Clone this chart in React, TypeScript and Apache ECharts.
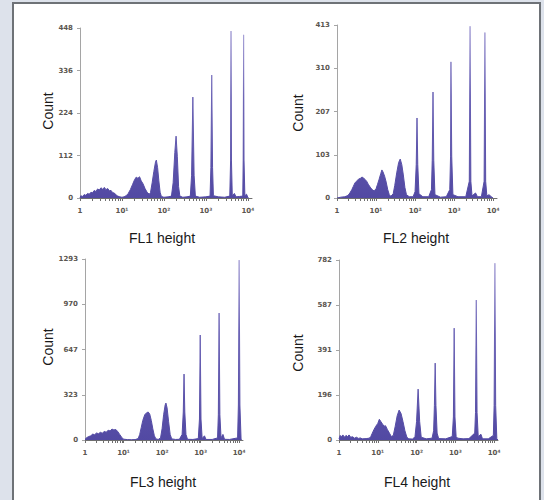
import React, { useEffect, useRef } from 'react';
import * as echarts from 'echarts';

const PANEL_TITLES = ['FL1 height', 'FL2 height', 'FL3 height', 'FL4 height'];
const Y_NAME = 'Count';
const Y_MAX = [448, 413, 1293, 782];
const X_TICK_LABELS = ['1', '10¹', '10²', '10³', '10⁴'];
const DECADES = [0, 1, 2, 3, 4];
const MINOR_STEPS = [2, 3, 4, 5, 6, 7, 8, 9];

// x = log10(channel), y = count
const fl1: number[][] = [
  [0, 0], [0.02, 6], [0.06, 4], [0.1, 9], [0.14, 7], [0.18, 12], [0.22, 10], [0.26, 15], [0.3, 14],
  [0.34, 20], [0.38, 17], [0.42, 24], [0.46, 21], [0.5, 27], [0.54, 23], [0.58, 28], [0.62, 22],
  [0.66, 25], [0.7, 19], [0.74, 20], [0.78, 14], [0.82, 13], [0.86, 8], [0.9, 5], [0.95, 3], [1.0, 2],
  [1.05, 3], [1.1, 6], [1.15, 12], [1.2, 22], [1.25, 35], [1.3, 48], [1.34, 55], [1.38, 52], [1.42, 56],
  [1.46, 45], [1.5, 38], [1.55, 25], [1.6, 15], [1.65, 10], [1.68, 14], [1.72, 40], [1.76, 70],
  [1.8, 95], [1.82, 100], [1.85, 80], [1.88, 45], [1.91, 15], [1.94, 4], [2.0, 2], [2.1, 3], [2.18, 5],
  [2.22, 40], [2.26, 120], [2.29, 163], [2.32, 110], [2.35, 30], [2.38, 5], [2.45, 2], [2.55, 3],
  [2.63, 5], [2.66, 60], [2.69, 266], [2.72, 60], [2.75, 5], [2.85, 2], [3.0, 3], [3.1, 5], [3.12, 80],
  [3.14, 324], [3.16, 80], [3.18, 6], [3.3, 3], [3.45, 2], [3.57, 5], [3.59, 100], [3.6, 440],
  [3.61, 100], [3.63, 5], [3.68, 12], [3.72, 3], [3.8, 4], [3.88, 5], [3.89, 100], [3.9, 430],
  [3.91, 100], [3.93, 6], [3.97, 10], [4.0, 2], [4.02, 0],
];

const fl2: number[][] = [
  [0, 0], [0.1, 2], [0.2, 3], [0.28, 6], [0.33, 12], [0.38, 20], [0.42, 28], [0.46, 36], [0.5, 40],
  [0.55, 45], [0.6, 47], [0.64, 50], [0.68, 48], [0.72, 44], [0.76, 40], [0.8, 33], [0.85, 26],
  [0.9, 20], [0.95, 17], [1.0, 22], [1.04, 33], [1.08, 45], [1.12, 58], [1.15, 67], [1.18, 62],
  [1.22, 52], [1.26, 38], [1.3, 20], [1.34, 8], [1.38, 4], [1.44, 10], [1.48, 30], [1.53, 60],
  [1.58, 85], [1.62, 93], [1.66, 80], [1.7, 55], [1.74, 25], [1.78, 8], [1.85, 3], [1.95, 3],
  [2.0, 15], [2.03, 80], [2.05, 191], [2.07, 80], [2.1, 10], [2.2, 3], [2.35, 3], [2.42, 20],
  [2.44, 90], [2.46, 253], [2.48, 90], [2.51, 8], [2.65, 2], [2.8, 3], [2.89, 20], [2.91, 100],
  [2.92, 325], [2.94, 100], [2.97, 8], [3.1, 3], [3.3, 3], [3.39, 40], [3.41, 410], [3.43, 40],
  [3.46, 5], [3.55, 12], [3.6, 3], [3.7, 3], [3.77, 40], [3.79, 395], [3.81, 40], [3.84, 5],
  [3.9, 8], [3.95, 3], [4.0, 0],
];

const fl3: number[][] = [
  [0, 5], [0.05, 18], [0.1, 25], [0.15, 30], [0.2, 42], [0.25, 38], [0.3, 50], [0.35, 45], [0.4, 55],
  [0.45, 48], [0.5, 62], [0.55, 55], [0.6, 70], [0.65, 65], [0.7, 78], [0.75, 72], [0.8, 75],
  [0.85, 60], [0.9, 40], [0.95, 20], [1.0, 6], [1.1, 3], [1.2, 2], [1.3, 3], [1.38, 10], [1.42, 40],
  [1.46, 90], [1.5, 140], [1.55, 180], [1.6, 195], [1.64, 200], [1.68, 185], [1.72, 140], [1.76, 80],
  [1.8, 30], [1.84, 8], [1.9, 4], [1.96, 15], [2.0, 80], [2.04, 180], [2.08, 250], [2.1, 264],
  [2.13, 230], [2.17, 130], [2.21, 40], [2.25, 8], [2.35, 4], [2.45, 5], [2.52, 40], [2.55, 200],
  [2.57, 471], [2.59, 200], [2.62, 40], [2.66, 5], [2.8, 4], [2.94, 10], [2.97, 150], [2.99, 750],
  [3.01, 150], [3.04, 10], [3.1, 30], [3.14, 4], [3.3, 4], [3.44, 15], [3.46, 180], [3.48, 907],
  [3.5, 180], [3.53, 15], [3.58, 40], [3.62, 5], [3.75, 4], [3.96, 15], [3.98, 250], [4.0, 1285],
  [4.02, 250], [4.05, 5], [4.07, 0],
];

const fl4: number[][] = [
  [0, 5], [0.03, 20], [0.06, 14], [0.1, 22], [0.14, 12], [0.18, 20], [0.22, 15], [0.26, 22], [0.3, 12],
  [0.35, 14], [0.4, 8], [0.45, 12], [0.5, 7], [0.55, 9], [0.6, 5], [0.7, 6], [0.78, 8], [0.82, 15],
  [0.86, 30], [0.9, 45], [0.95, 60], [1.0, 72], [1.04, 90], [1.08, 80], [1.12, 70], [1.16, 60],
  [1.2, 62], [1.25, 45], [1.3, 30], [1.35, 15], [1.4, 20], [1.45, 60], [1.5, 105], [1.55, 130],
  [1.6, 115], [1.65, 80], [1.7, 40], [1.75, 12], [1.8, 5], [1.9, 4], [1.96, 15], [2.0, 80],
  [2.04, 221], [2.08, 80], [2.12, 12], [2.25, 5], [2.4, 8], [2.44, 40], [2.46, 150], [2.48, 334],
  [2.5, 150], [2.53, 30], [2.57, 6], [2.75, 5], [2.92, 15], [2.95, 100], [2.97, 486], [2.99, 100],
  [3.02, 15], [3.06, 8], [3.2, 5], [3.35, 6], [3.5, 30], [3.52, 120], [3.54, 608], [3.56, 120],
  [3.59, 15], [3.66, 25], [3.7, 5], [3.85, 5], [3.98, 20], [4.0, 150], [4.02, 768], [4.04, 150],
  [4.07, 5], [4.1, 0],
];

const SERIES_DATA = [fl1, fl2, fl3, fl4];

const GRIDS = [
  { left: 80, top: 28, width: 172, height: 170 },
  { left: 337, top: 25, width: 160, height: 173 },
  { left: 85, top: 259, width: 158, height: 181 },
  { left: 339, top: 260, width: 159, height: 180 },
];
const TITLE_POS = [[162, 238], [416, 238], [163, 482], [417, 482]];
const COUNT_POS = [[48, 111], [298, 113], [48, 347], [298, 353]];

const TICK_COLOR = '#5b5650';
const FILL_DARK = '#5249a3';

function minorTickValues(): number[] {
  const out: number[] = [...DECADES];
  for (let d = 0; d < 4; d++) {
    for (const k of MINOR_STEPS) out.push(d + Math.log10(k));
  }
  return out;
}

export default function App() {
  const ref = useRef<HTMLDivElement>(null);

  useEffect(() => {
    if (!ref.current) return;
    const chart = echarts.init(ref.current, undefined, { renderer: 'svg' });
    const ticks = minorTickValues();
    const labelStyle = {
      fontSize: 7,
      fontWeight: 'bold' as const,
      fontFamily: 'DejaVu Sans',
      color: TICK_COLOR,
    };

    const graphics: any[] = [
      {
        type: 'rect',
        z: -10,
        silent: true,
        shape: { x: 13, y: 3, width: 527, height: 510 },
        style: { fill: '#ffffff', stroke: '#6e7277', lineWidth: 2 },
      },
    ];
    PANEL_TITLES.forEach((t, i) => {
      graphics.push({
        type: 'text',
        x: TITLE_POS[i][0],
        y: TITLE_POS[i][1],
        style: {
          text: t,
          fill: '#1a1a1a',
          font: '14px "Liberation Sans", Arial, sans-serif',
          align: 'center',
          verticalAlign: 'middle',
          textAlign: 'center',
          textVerticalAlign: 'middle',
        },
      });
      graphics.push({
        type: 'text',
        x: COUNT_POS[i][0],
        y: COUNT_POS[i][1],
        rotation: Math.PI / 2,
        style: {
          text: Y_NAME,
          fill: '#1a1a1a',
          font: '14px "Liberation Sans", Arial, sans-serif',
          align: 'center',
          verticalAlign: 'middle',
          textAlign: 'center',
          textVerticalAlign: 'middle',
        },
      });
    });

    const option: any = {
      animation: false,
      backgroundColor: '#dde2eb',
      grid: GRIDS.map((g) => ({ ...g, containLabel: false })),
      xAxis: GRIDS.map((_, i) => ({
        type: 'value',
        gridIndex: i,
        min: 0,
        max: 4.1,
        axisLine: { show: true, lineStyle: { color: '#6f6f6f', width: 1 } },
        axisTick: {
          show: true,
          customValues: ticks,
          length: 3,
          lineStyle: { color: '#6f6f6f', width: 1 },
        },
        axisLabel: {
          ...labelStyle,
          customValues: DECADES,
          margin: 9,
          formatter: (v: number) => X_TICK_LABELS[DECADES.indexOf(Math.round(v))] ?? '',
        },
        splitLine: { show: false },
      })),
      yAxis: Y_MAX.map((m, i) => ({
        type: 'value',
        gridIndex: i,
        min: 0,
        max: m,
        interval: m / 4,
        axisLine: { show: true, lineStyle: { color: '#a5a5a5', width: 1 } },
        axisTick: { show: true, length: 3, lineStyle: { color: '#a5a5a5' } },
        axisLabel: {
          ...labelStyle,
          margin: 7,
          formatter: (v: number) => String(Math.round(v)),
        },
        splitLine: { show: false },
      })),
      series: SERIES_DATA.map((d, i) => ({
        type: 'line',
        xAxisIndex: i,
        yAxisIndex: i,
        data: d,
        symbol: 'none',
        smooth: false,
        clip: true,
        lineStyle: {
          width: 1,
          color: new echarts.graphic.LinearGradient(0, 0, 0, 1, [
            { offset: 0, color: '#aaa4d8' },
            { offset: 0.4, color: '#6a62b5' },
            { offset: 1, color: FILL_DARK },
          ]),
        },
        areaStyle: {
          opacity: 1,
          color: new echarts.graphic.LinearGradient(0, 0, 0, 1, [
            { offset: 0, color: '#b3add9' },
            { offset: 0.4, color: '#6d65b6' },
            { offset: 1, color: FILL_DARK },
          ]),
        },
      })),
      graphic: graphics,
    };
    chart.setOption(option);
    return () => chart.dispose();
  }, []);

  return (
    <div
      ref={ref}
      style={{ position: 'fixed', left: 0, top: 0, width: 544, height: 500 }}
    />
  );
}
